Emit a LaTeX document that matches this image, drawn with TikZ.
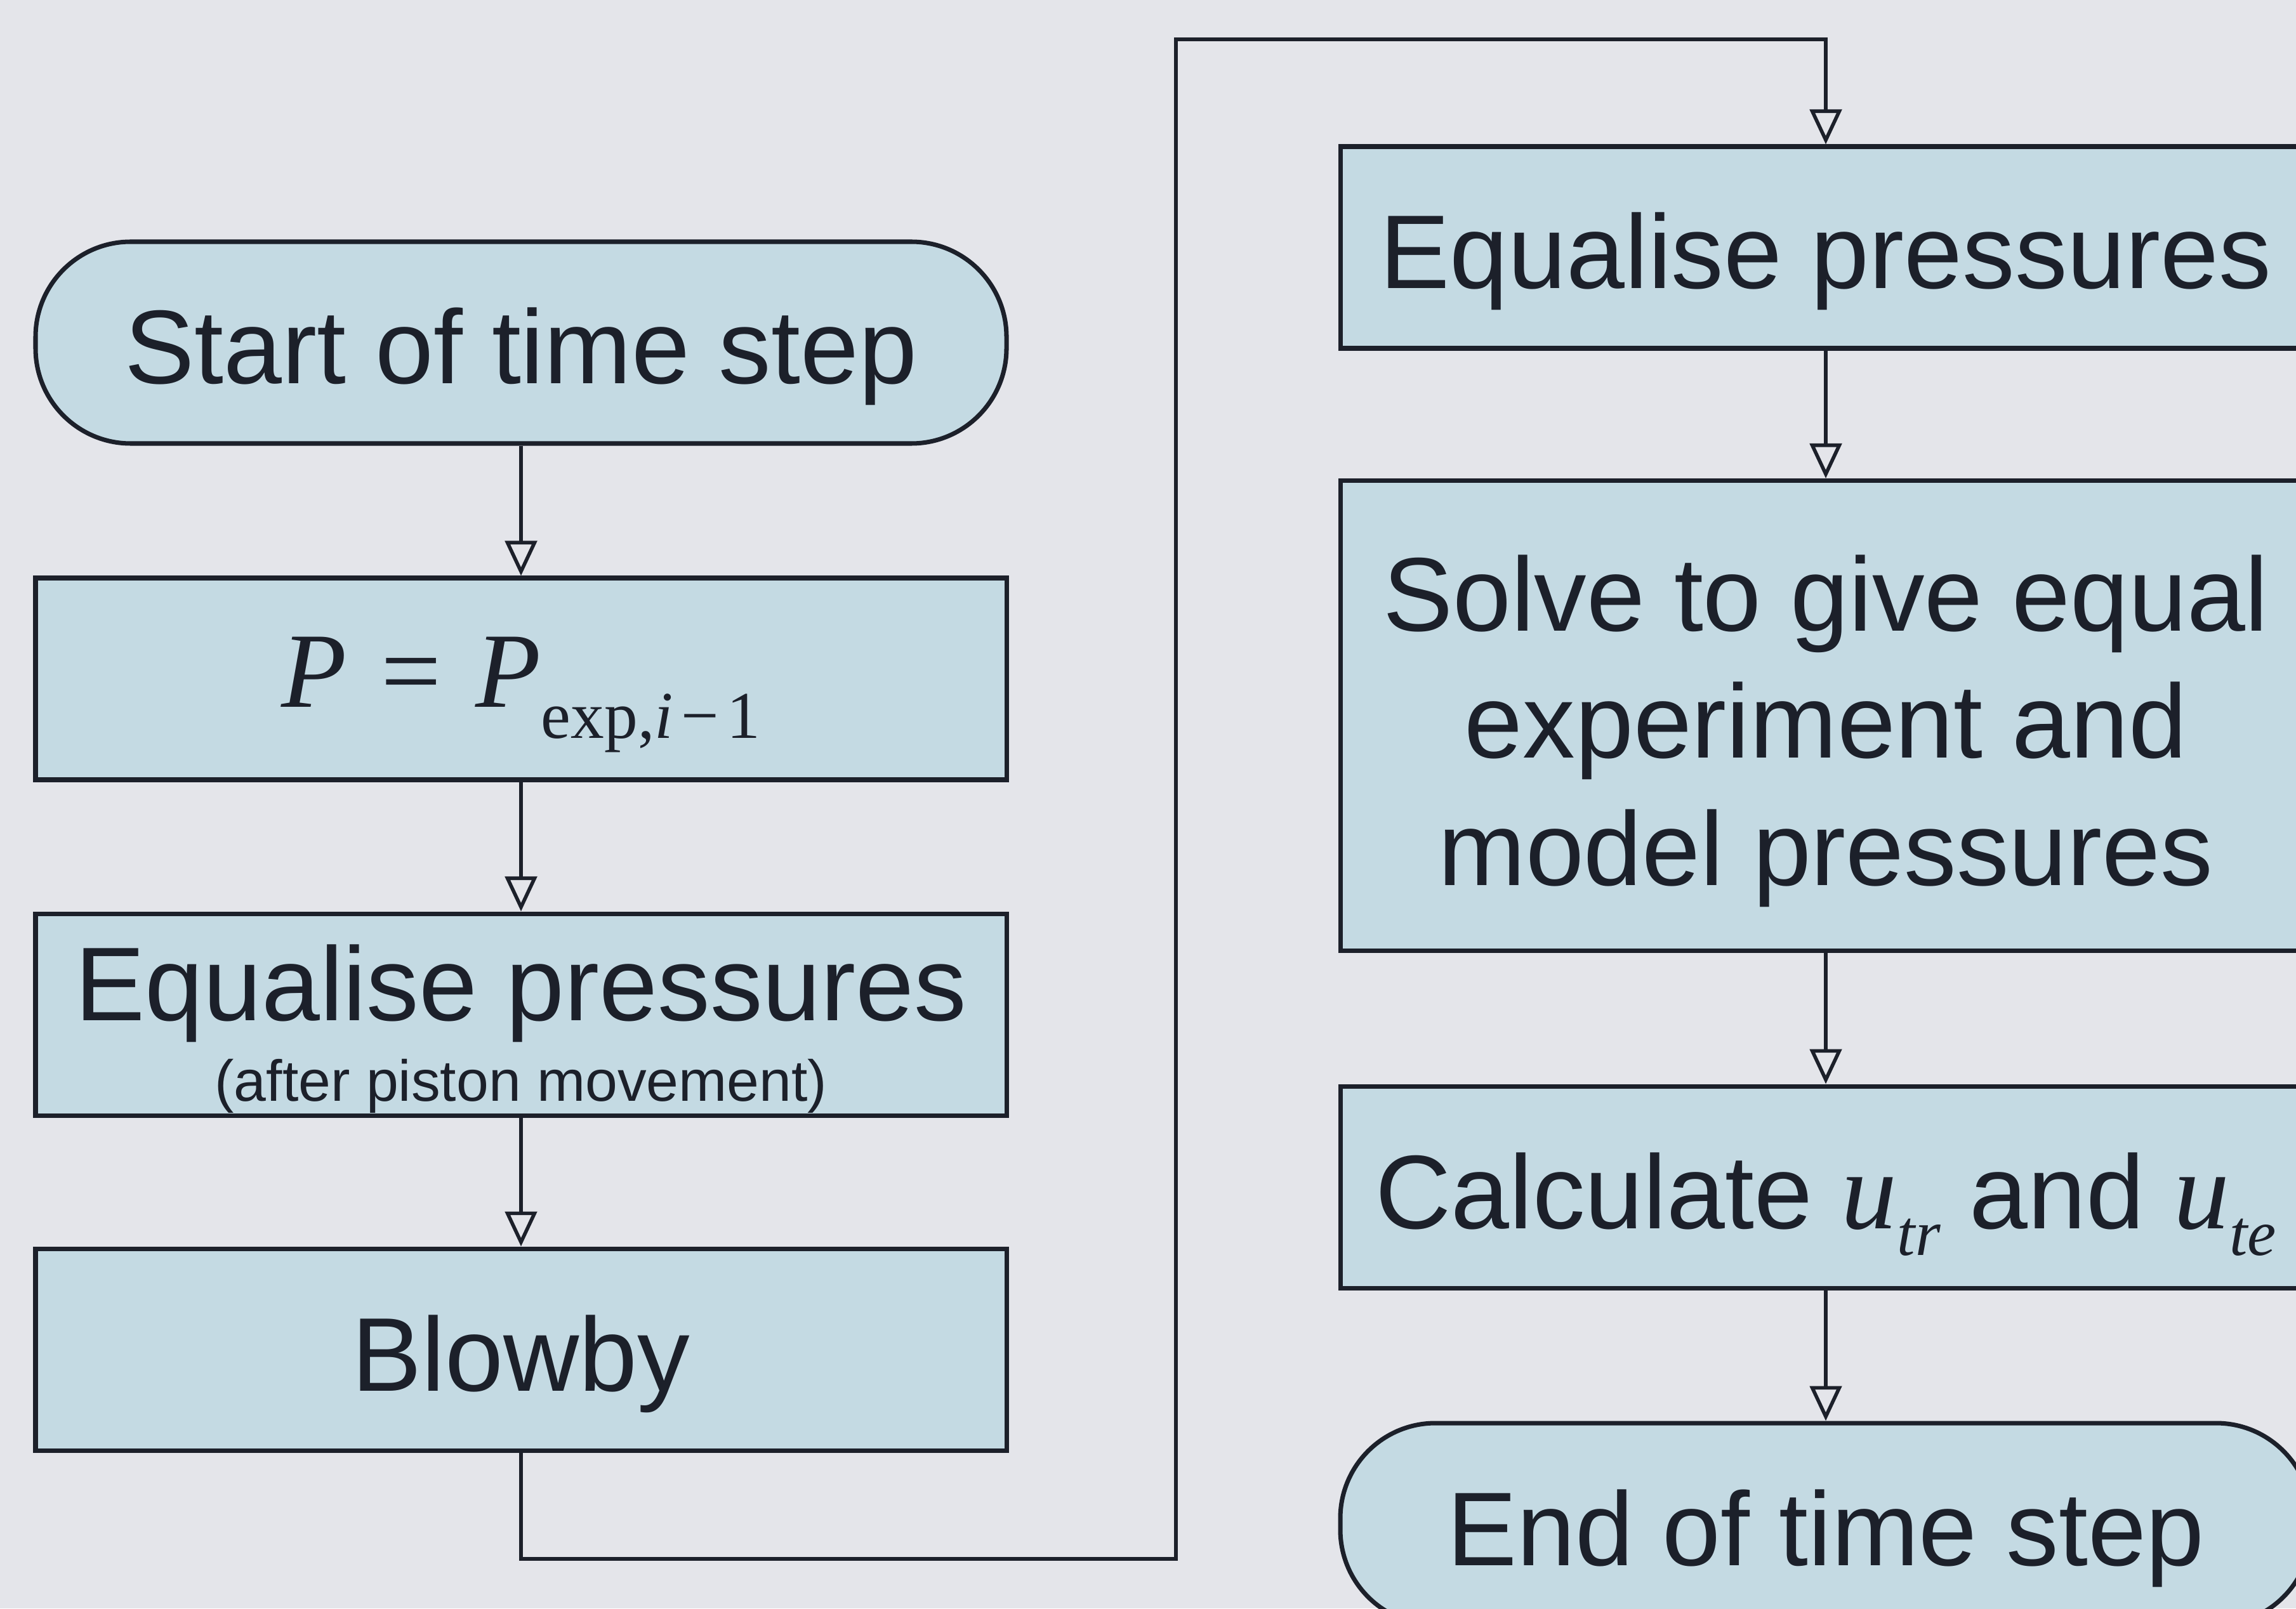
\documentclass[tikz,border=0pt]{standalone}
\usepackage{fontspec}
\setmainfont{Liberation Sans}
\newfontfamily\tms{Liberation Serif}
\usetikzlibrary{arrows.meta}
\definecolor{bgcol}{RGB}{228,229,234}
\definecolor{boxcol}{RGB}{196,218,227}
\definecolor{inkcol}{RGB}{28,32,42}

\begin{document}
\begin{tikzpicture}[>={Triangle[open,length=5.5mm,width=5mm]},
  cell/.style={draw=inkcol, line width=2pt, fill=boxcol, text=inkcol, minimum width=15.3cm, minimum height=3.18cm, inner sep=0pt, font=\fontsize{47}{57}\selectfont, align=center},
  box/.style={cell, text height=1.5cm, text depth=0.2cm},
  term/.style={box, rounded corners=1.5cm},
  link/.style={->, draw=inkcol, line width=1.6pt}]
\fill[bgcol] (0,0) rectangle (36.18,-25.35);
\useasboundingbox (0,0) rectangle (36.18,-25.35);
\node[term] (start) at (8.21,-5.40) {Start of time step};
\node[box, text height=1.1cm, text depth=0.22cm] (pset) at (8.21,-10.70) {\fontsize{48}{52}\tms\itshape P\hspace{0.32em}\upshape=\hspace{0.32em}\itshape P\raisebox{-14pt}{\fontsize{30}{32}\selectfont\upshape exp,\itshape i\upshape\hspace{0.12em}−\hspace{0.12em}1}};
\node[cell] (eqa) at (8.21,-15.99) {\rule{0pt}{1.65cm}Equalise pressures\\[-21pt]{\fontsize{26}{30}\selectfont(after piston movement)}};
\node[box] (blow) at (8.21,-21.27) {Blowby};
\node[box] (eqb) at (28.77,-3.90) {Equalise pressures};
\node[cell, minimum height=7.41cm] (solve) at (28.77,-11.28) {\rule{0pt}{1.68cm}Solve to give equal\\experiment and\\model pressures};
\node[box] (calc) at (28.77,-18.71) {Calculate {\fontsize{50}{57}\tms\itshape u}\raisebox{-12pt}{\fontsize{29}{30}\tms\itshape tr} and {\fontsize{50}{57}\tms\itshape u}\raisebox{-12pt}{\fontsize{29}{30}\tms\itshape te}};
\node[term] (stop) at (28.77,-24.02) {End of time step};
\coordinate (lb) at (18.53,-24.57);
\coordinate (lt) at (18.53,-0.62);
\draw[link] (start) -- (pset);
\draw[link] (pset) -- (eqa);
\draw[link] (eqa) -- (blow);
\draw[link] (blow.south) |- (lb) -- (lt) -| (eqb.north);
\draw[link] (eqb) -- (solve);
\draw[link] (solve) -- (calc);
\draw[link] (calc) -- (stop);
\end{tikzpicture}
\end{document}
